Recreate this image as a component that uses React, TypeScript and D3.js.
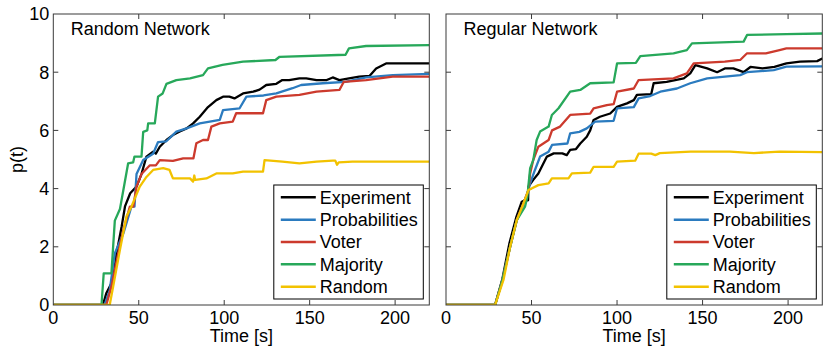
import React, { useRef, useEffect } from 'react';
import * as d3 from 'd3';

type Pt = [number, number];

// series names, in drawing order
const seriesNames = ['Experiment', 'Probabilities', 'Voter', 'Majority', 'Random'];
const seriesColors = ['#000000', '#2b7bbf', '#cc3a2d', '#27a85a', '#f2c200'];
const panelTitles = ['Random Network', 'Regular Network'];
const xTicks = [0, 50, 100, 150, 200];
const yTicks = [0, 2, 4, 6, 8, 10];

// Random network
const randExperiment: Pt[] = [[0,0],[29,0],[31,0.4],[35,0.86],[37,1.78],[40,2.7],[42,3.4],[45,3.84],[48.7,4.07],[51.6,4.5],[54.5,5.1],[58.4,5.27],[60,5.2],[62.3,5.44],[66.2,5.67],[70,5.84],[74,5.96],[78,6.07],[81.8,6.24],[85.7,6.47],[90.5,6.8],[95.4,7.04],[99.3,7.16],[103,7.16],[106,7.1],[111,7.27],[117,7.33],[120.7,7.4],[124.6,7.56],[130.5,7.6],[134,7.73],[138,7.73],[144,7.79],[148,7.79],[154,7.73],[160,7.73],[163.5,7.82],[167.4,7.73],[173,7.79],[179,7.85],[185,7.87],[188.9,8.13],[194.7,8.3],[220,8.3]];
const randProbabilities: Pt[] = [[0,0],[30,0],[33,0.5],[36,1.78],[41,2.46],[45.7,3.38],[47.5,3.38],[48.7,4.5],[52.6,4.98],[58.4,5.2],[61.3,5.6],[66,5.62],[72,5.96],[78,6.07],[85.7,6.24],[97.4,6.36],[99.3,6.7],[109,6.76],[113,7.16],[123,7.2],[130.5,7.27],[140,7.45],[145,7.56],[157.7,7.62],[171,7.67],[183,7.82],[198.6,7.9],[220,7.94]];
const randVoter: Pt[] = [[0,0],[31,0],[34,0.63],[38,1.78],[41,2.58],[44.8,3.38],[46.8,3.38],[48.7,4.07],[51.6,4.5],[56.5,4.8],[60,4.8],[62.3,4.98],[70,4.95],[76,5.04],[82,5.04],[83.7,5.56],[87.6,5.67],[90.5,5.67],[92.5,6.13],[97.4,6.24],[105,6.3],[107,6.59],[122.7,6.59],[124.6,7.04],[130.5,7.16],[144,7.22],[154,7.33],[167.4,7.39],[170,7.67],[183,7.73],[198.6,7.85],[220,7.85]];
const randMajority: Pt[] = [[0,0],[28.2,0],[29.5,1.09],[34,1.09],[36,2.9],[39,3.3],[43.8,4.87],[46.7,4.9],[47.5,5.1],[51.6,5.1],[52.6,5.95],[55,6.0],[55.5,6.24],[59.4,6.24],[61.3,7.16],[64,7.27],[66.2,7.6],[72,7.73],[80,7.79],[87.6,7.9],[90.5,8.13],[99,8.25],[111,8.36],[130,8.42],[132.4,8.53],[171,8.6],[173,8.82],[183,8.9],[220,8.93]];
const randRandom: Pt[] = [[0,0],[33,0],[35,0.63],[39,1.9],[42.8,3.04],[45.7,3.38],[50.6,4.07],[54.5,4.4],[58.4,4.64],[64.3,4.7],[68,4.64],[70,4.35],[80,4.35],[81.8,4.24],[82.5,4.45],[83,4.3],[89.6,4.35],[95.4,4.52],[105,4.52],[111,4.58],[122.7,4.58],[123.6,4.98],[134,4.93],[144,4.87],[154,4.93],[163.5,4.96],[165,4.96],[166,4.82],[167,4.9],[175,4.93],[220,4.93]];

// Regular network
const regExperiment: Pt[] = [[0,0],[28.7,0],[33,0.9],[37,2.1],[41,3.0],[44.3,3.55],[46,3.6],[48,3.6],[48.2,4.07],[51,4.3],[54,4.52],[57,4.87],[59,5.1],[63,5.21],[68,5.21],[70.6,5.15],[72.6,5.33],[76,5.36],[78.5,5.55],[82.3,5.78],[84.3,6.0],[86.3,6.36],[90,6.47],[96,6.58],[100,6.81],[102,6.85],[105.8,6.93],[109.8,7.04],[111.6,7.22],[120,7.25],[121.4,7.62],[129,7.67],[139,7.79],[142.8,7.96],[145.8,8.24],[152.7,8.13],[158.5,8.0],[163,8.13],[168,8.13],[174,8.0],[178,8.18],[185,8.13],[192,8.18],[199,8.3],[207,8.36],[217,8.38],[220,8.47]];
const regProbabilities: Pt[] = [[0,0],[28.7,0],[33,0.86],[37.5,2.0],[41.4,2.92],[45.3,3.49],[48.2,3.95],[49.2,4.18],[52,4.64],[55,5.1],[60,5.27],[62,5.5],[71,5.55],[72.6,5.9],[78,5.95],[82.3,6.07],[87.2,6.3],[98,6.33],[100,6.76],[109.8,6.8],[112.6,7.1],[119.4,7.18],[125.3,7.33],[135,7.44],[142.8,7.62],[152.7,7.79],[172,7.9],[176,8.0],[191.6,8.07],[199,8.19],[220,8.2]];
const regVoter: Pt[] = [[0,0],[28.7,0],[33,0.86],[37.5,2.0],[41.4,2.92],[45.3,3.49],[48.2,3.95],[49.2,4.52],[51,4.98],[54,5.44],[60,5.67],[62,6.0],[66.7,6.13],[72.6,6.53],[84.3,6.58],[86.3,6.76],[94,6.87],[98,6.9],[100,7.33],[109.8,7.44],[112.6,7.73],[133,7.79],[140.8,7.96],[144.8,8.3],[163,8.36],[172,8.42],[176,8.65],[187,8.65],[195,8.76],[199,8.82],[220,8.82]];
const regMajority: Pt[] = [[0,0],[28.7,0],[33,0.86],[37.5,2.0],[41.4,2.92],[46.2,3.38],[47.5,3.7],[49.2,4.7],[51,4.98],[53,5.67],[55,5.96],[60,6.13],[61.9,6.53],[65.8,6.76],[72.6,7.33],[78.5,7.39],[84.3,7.62],[98,7.65],[100,8.3],[111,8.32],[113.6,8.55],[133,8.65],[140.8,8.76],[143.8,8.99],[174,9.05],[176,9.28],[199,9.31],[220,9.33]];
const regRandom: Pt[] = [[0,0],[28.7,0],[33.6,0.86],[37.5,2.0],[41.4,2.92],[45.3,3.49],[48.2,3.95],[50,4.0],[54,4.12],[60,4.18],[61.9,4.35],[71.6,4.35],[73.6,4.52],[84.3,4.55],[86.3,4.75],[98,4.75],[100,4.93],[110.6,4.96],[112.6,5.2],[120,5.2],[122.4,5.15],[125,5.22],[143,5.27],[166,5.27],[180,5.22],[195,5.27],[220,5.25]];

const panelSeries: Pt[][][] = [
  [randExperiment, randProbabilities, randVoter, randMajority, randRandom],
  [regExperiment, regProbabilities, regVoter, regMajority, regRandom],
];

const W = 830;
const H = 352;
const FONT = 'Liberation Sans, Arial, Helvetica, sans-serif';

const App = () => {
  const ref = useRef<SVGSVGElement>(null);

  useEffect(() => {
    if (!ref.current) return;
    const svg = d3.select(ref.current);
    svg.selectAll('*').remove();

    const top = 14, bottom = 305;
    const panelsX = [[53.3, 429.3], [446, 822.3]];
    const y = d3.scaleLinear().domain([0, 10]).range([bottom, top]);

    panelsX.forEach(([x0, x1], pi) => {
      const x = d3.scaleLinear().domain([0, 220]).range([x0, x1]);
      const g = svg.append('g');

      const clipId = 'clip' + pi;
      g.append('clipPath').attr('id', clipId)
        .append('rect').attr('x', x0).attr('y', top).attr('width', x1 - x0).attr('height', bottom - top);

      // lines
      const line = d3.line<Pt>().x(d => x(d[0])).y(d => y(d[1]));
      panelSeries[pi].forEach((data, si) => {
        g.append('path')
          .attr('d', line(data))
          .attr('fill', 'none')
          .attr('stroke', seriesColors[si])
          .attr('stroke-width', 2.3)
          .attr('stroke-linejoin', 'round')
          .attr('clip-path', `url(#${clipId})`);
      });

      // ticks inward on all sides
      const tickLen = 5;
      const axisColor = '#3a3a3a';
      xTicks.slice(1).forEach(t => {
        g.append('line').attr('x1', x(t)).attr('x2', x(t)).attr('y1', bottom).attr('y2', bottom - tickLen)
          .attr('stroke', axisColor).attr('stroke-width', 1);
        g.append('line').attr('x1', x(t)).attr('x2', x(t)).attr('y1', top).attr('y2', top + tickLen)
          .attr('stroke', axisColor).attr('stroke-width', 1);
      });
      yTicks.slice(1, -1).forEach(t => {
        g.append('line').attr('x1', x0).attr('x2', x0 + tickLen).attr('y1', y(t)).attr('y2', y(t))
          .attr('stroke', axisColor).attr('stroke-width', 1);
        g.append('line').attr('x1', x1).attr('x2', x1 - tickLen).attr('y1', y(t)).attr('y2', y(t))
          .attr('stroke', axisColor).attr('stroke-width', 1);
      });

      // box
      g.append('rect').attr('x', x0).attr('y', top).attr('width', x1 - x0).attr('height', bottom - top)
        .attr('fill', 'none').attr('stroke', axisColor).attr('stroke-width', 1);

      // x tick labels
      xTicks.forEach(t => {
        g.append('text').attr('x', x(t)).attr('y', 323.5).attr('text-anchor', 'middle')
          .attr('font-family', FONT).attr('font-size', 18).attr('fill', '#000').text(t);
      });
      g.append('text').attr('x', (x0 + x1) / 2).attr('y', 342).attr('text-anchor', 'middle')
        .attr('font-family', FONT).attr('font-size', 18).attr('fill', '#000').text('Time [s]');

      if (pi === 0) {
        yTicks.forEach(t => {
          g.append('text').attr('x', x0 - 4).attr('y', y(t)).attr('dy', '0.36em').attr('text-anchor', 'end')
            .attr('font-family', FONT).attr('font-size', 18).attr('fill', '#000').text(t);
        });
        g.append('text').attr('transform', `translate(23,${(top + bottom) / 2}) rotate(-90)`)
          .attr('text-anchor', 'middle')
          .attr('font-family', FONT).attr('font-size', 18).attr('fill', '#000').text('p(t)');
      }

      // title
      g.append('text').attr('x', x0 + 17.5).attr('y', 34.5)
        .attr('font-family', FONT).attr('font-size', 18).attr('fill', '#000').text(panelTitles[pi]);

      // legend
      const lw = 149.5, lh = 114;
      const lx = x1 - 6 - lw, ly = 185;
      g.append('rect').attr('x', lx).attr('y', ly).attr('width', lw).attr('height', lh)
        .attr('fill', '#fff').attr('stroke', '#000').attr('stroke-width', 1);
      seriesNames.forEach((name, si) => {
        const ry = 197.3 + si * 22.35;
        g.append('line').attr('x1', lx + 7).attr('x2', lx + 42).attr('y1', ry).attr('y2', ry)
          .attr('stroke', seriesColors[si]).attr('stroke-width', 2.5);
        g.append('text').attr('x', lx + 46).attr('y', ry).attr('dy', '0.36em')
          .attr('font-family', FONT).attr('font-size', 18).attr('fill', '#000').text(name);
      });
    });
  }, []);

  return (
    <svg ref={ref} width={W} height={H}
      style={{ position: 'absolute', left: 0, top: 0, background: '#fff' }} />
  );
};

export default App;
